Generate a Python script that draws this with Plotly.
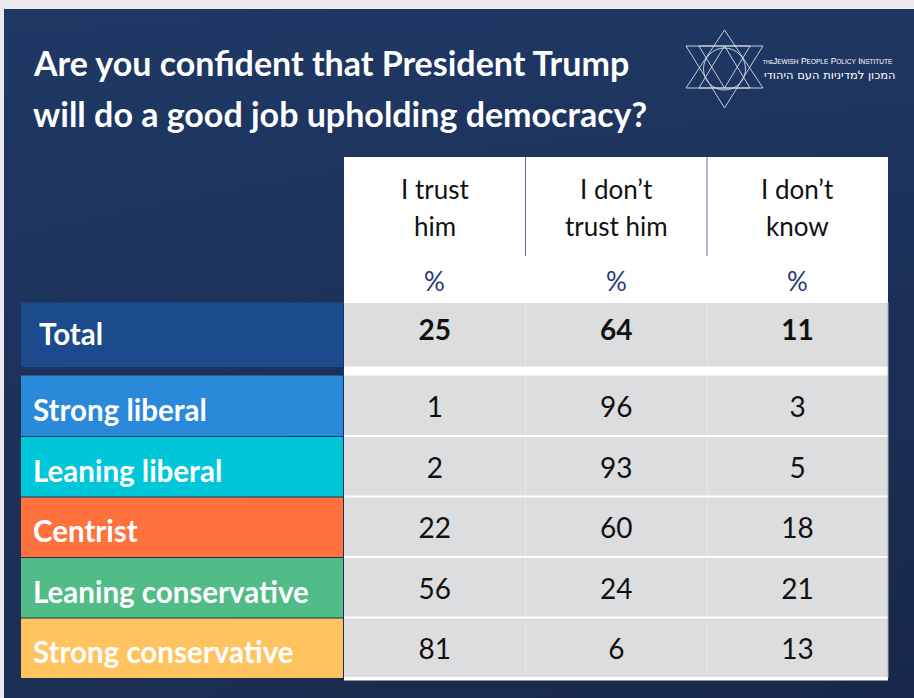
import plotly.graph_objects as go

# ---- survey results (percent) ----
categories = ["Total", "Strong liberal", "Leaning liberal", "Centrist",
              "Leaning conservative", "Strong conservative"]
answer_labels = ["I trust<br>him", "I don’t<br>trust him", "I don’t<br>know"]
trust = [25, 1, 2, 22, 56, 81]
dont_trust = [64, 96, 93, 60, 24, 6]
dont_know = [11, 3, 5, 18, 21, 13]
columns = [trust, dont_trust, dont_know]

title_lines = ["Are you confident that President Trump",
               "will do a good job upholding democracy?"]

# ---- styling ----
label_fills = ["#1B4A8D", "#2A89D9", "#00C7D8", "#FF713D", "#51BC87", "#FFC35F"]
cell_gray = "#DCDDDF"
navy_text = "#24397A"
W, H = 914, 698

# table geometry (axis units == pixels)
label_x0, label_x1 = 21, 343
col_edges = [344, 525.5, 707, 888]
head_y0, pct_y, head_y1 = 157, 281, 302.5
total_y0, total_y1 = 302.5, 367
rows_y0, row_h = 375.5, 60.5

col_centers = [(col_edges[i] + col_edges[i + 1]) / 2 for i in range(len(columns))]


def row_span(i):
    if i == 0:
        return total_y0, total_y1
    top = rows_y0 + (i - 1) * row_h
    return top, top + row_h


fig = go.Figure()


def add_rect(x0, x1, y0, y1, color):
    fig.add_trace(go.Scatter(
        x=[x0, x1, x1, x0, x0], y=[y0, y0, y1, y1, y0], mode="lines",
        fill="toself", fillcolor=color, line=dict(width=0, color=color),
        hoverinfo="skip", showlegend=False,
    ))


def add_line(x0, x1, y0, y1, color, width=1):
    fig.add_trace(go.Scatter(
        x=[x0, x1], y=[y0, y1], mode="lines", line=dict(width=width, color=color),
        hoverinfo="skip", showlegend=False,
    ))


# background gradient
fig.add_trace(go.Heatmap(
    x=[0, W], y=[0, H], z=[[1.0, 0.95], [0.45, 0.0]],
    colorscale=[[0, "#172849"], [0.45, "#1B2E54"], [1, "#1F3865"]],
    zsmooth="best", showscale=False, hoverinfo="skip",
))

# thin light frame at top and left
add_rect(0, W, 0, 9, "#ECE8EE")
add_rect(0, 4, 0, H, "#ECE8EE")

# white backing for header + data columns
last_bottom = row_span(len(categories) - 1)[1]
add_rect(col_edges[0], col_edges[-1], head_y0, last_bottom + 2.5, "white")
for xe in col_edges[1:-1]:
    add_line(xe, xe, head_y0, 256, "#5B6EAA")

# label and gray cells
for i, cat in enumerate(categories):
    y0, y1 = row_span(i)
    top_pad = 0 if i <= 1 else 1
    add_rect(label_x0, label_x1, y0 + top_pad, y1, label_fills[i])
    g0 = y0 + (0.5 if i == 0 else top_pad)
    add_rect(col_edges[0], col_edges[-1], g0, y1 - (1 if i > 0 else 0.5), cell_gray)
    for xe in col_edges[1:-1]:
        add_line(xe, xe, g0, y1 - 1, "#E7E7E9")
add_line(col_edges[-1], col_edges[-1], total_y0, last_bottom, "#A9ADB8")

# values in the cells
for j, vals in enumerate(columns):
    ys = []
    texts = []
    for i, v in enumerate(vals):
        y0, y1 = row_span(i)
        ys.append((y0 + y1) / 2 + (-1.5 if i == 0 else 4.5))
        texts.append(f"<b>{v}</b>" if i == 0 else str(v))
    fig.add_trace(go.Scatter(
        x=[col_centers[j]] * len(vals), y=ys, mode="text", text=texts,
        textfont=dict(family="Lato", size=28, color="#111111"),
        textposition="middle center", hoverinfo="skip", showlegend=False,
    ))

# logo: hexagram with inner construction lines
shapes = []
cx, cy = 724.5, 69
top, bot = 30, 108
up_base, dn_base = 88, 46
lx, rx = 686, 763
logo_line = dict(color="rgba(225,230,240,0.85)", width=1)
shapes.append(dict(type="path", xref="x", yref="y",
                   path=f"M{cx},{top} L{rx},{up_base} L{lx},{up_base} Z", line=logo_line))
shapes.append(dict(type="path", xref="x", yref="y",
                   path=f"M{cx},{bot} L{rx},{dn_base} L{lx},{dn_base} Z", line=logo_line))
ix = 12.8
shapes.append(dict(type="path", xref="x", yref="y",
                   path=f"M{cx},{dn_base} L{cx + 2 * ix},{up_base} L{cx - 2 * ix},{up_base} Z",
                   line=logo_line))
shapes.append(dict(type="path", xref="x", yref="y",
                   path=f"M{cx},{up_base} L{cx + 2 * ix},{dn_base} L{cx - 2 * ix},{dn_base} Z",
                   line=logo_line))
shapes.append(dict(type="circle", xref="x", yref="y", x0=cx - 21, x1=cx + 21,
                   y0=cy - 21, y1=cy + 21, line=logo_line))
fig.update_layout(shapes=shapes)

annotations = []
# title
for k, line in enumerate(title_lines):
    annotations.append(dict(xref="x", yref="y", x=31, y=62 + 51 * k, text=f"<b>{line}</b>",
                            showarrow=False, xanchor="left", yanchor="middle",
                            font=dict(family="Lato", size=34, color="white")))
# column headers (two lines each) and % row
for j, lab in enumerate(answer_labels):
    for k, part in enumerate(lab.split("<br>")):
        annotations.append(dict(xref="x", yref="y", x=col_centers[j], y=189 + 37 * k,
                                text=part, showarrow=False, xanchor="center",
                                yanchor="middle",
                                font=dict(family="Lato", size=26, color="#111111")))
    annotations.append(dict(xref="x", yref="y", x=col_centers[j], y=pct_y, text="%",
                            showarrow=False, xanchor="center", yanchor="middle",
                            font=dict(family="Lato", size=26, color=navy_text)))
# row labels
for i, cat in enumerate(categories):
    y0, y1 = row_span(i)
    annotations.append(dict(xref="x", yref="y", x=37 if i == 0 else 31,
                            y=(y0 + y1) / 2 + (-1 if i == 0 else 4),
                            text=f"<b>{cat}</b>", showarrow=False, xanchor="left",
                            yanchor="middle",
                            font=dict(family="Lato", size=29.5, color="white")))
# institute name beside the emblem
annotations.append(dict(
    xref="x", yref="y", x=761, y=61, xanchor="left", yanchor="middle", showarrow=False,
    text=("<span style='font-size:5px'>THE</span>J<span style='font-size:6.5px'>EWISH</span> "
          "P<span style='font-size:6.5px'>EOPLE</span> P<span style='font-size:6.5px'>OLICY</span> "
          "I<span style='font-size:6.5px'>NSTITUTE</span>"),
    font=dict(family="Liberation Sans", size=8.5, color="white")))
annotations.append(dict(
    xref="x", yref="y", x=762, y=75, xanchor="left", yanchor="middle", showarrow=False,
    text="המכון למדיניות העם היהודי",
    font=dict(family="DejaVu Sans", size=11.5, color="white")))
fig.update_layout(annotations=annotations)

fig.update_layout(
    width=W, height=H, margin=dict(l=0, r=0, t=0, b=0),
    paper_bgcolor="#1F3764", plot_bgcolor="#1F3764",
    xaxis=dict(range=[0, W], visible=False, fixedrange=True),
    yaxis=dict(range=[H, 0], visible=False, fixedrange=True),
    showlegend=False,
)

fig.write_html("out.html")
